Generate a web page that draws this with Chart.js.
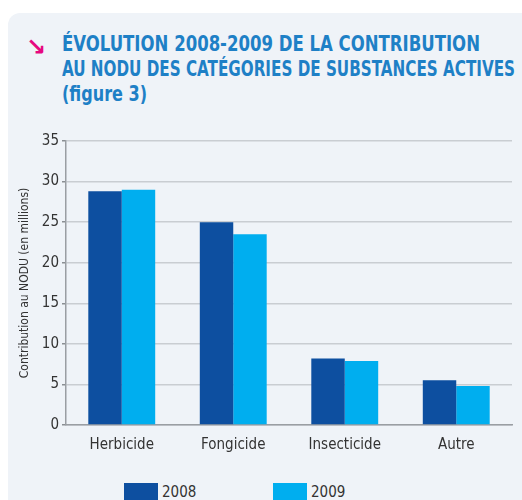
<!DOCTYPE html>
<html lang="fr">
<head>
    <meta charset="UTF-8">
    <title>Évolution 2008-2009 de la contribution au NODU</title>
    <style>
        body {
            margin: 0;
            width: 522px;
            height: 500px;
            overflow: hidden;
            background-color: white;
            position: relative;
            font-family: "DejaVu Sans Condensed", "Liberation Sans Narrow", Roboto, sans-serif;
        }
        .panel {
            position: absolute;
            left: 8px;
            top: 13px;
            width: 530px;
            height: 500px;
            background-color: #eff3f8;
            border-top-left-radius: 12px;
        }
        .arrow {
            position: absolute;
            left: 26px;
            top: 33px;
            color: #e6087f;
            font-size: 24px;
            font-weight: bold;
            font-family: "DejaVu Sans", sans-serif;
        }
        h1 {
            position: absolute;
            left: 62px;
            top: 32px;
            margin: 0;
            font-size: 21px;
            line-height: 25px;
            font-weight: bold;
            color: #1e80c6;
            white-space: nowrap;
        }
        h1 span {
            display: block;
            width: max-content;
            transform-origin: 0 0;
        }
        .chart-box {
            position: absolute;
            left: 0;
            top: 129px;
            width: 522px;
            height: 343px;
        }
        .legend {
            position: absolute;
            top: 483px;
            left: 0;
            font-size: 15px;
            color: #333;
        }
        .legend span.item {
            position: absolute;
            white-space: nowrap;
        }
        .legend span.box {
            display: inline-block;
            width: 34px;
            height: 17px;
            vertical-align: top;
            margin-right: 4px;
        }
    </style>
</head>
<body>
    <div class="panel"></div>
    <div class="arrow">↘</div>
    <h1 id="title"><span>ÉVOLUTION 2008-2009 DE LA CONTRIBUTION</span><span>AU NODU DES CATÉGORIES DE SUBSTANCES ACTIVES</span><span>(figure 3)</span></h1>
    <div class="chart-box"><canvas id="nodu"></canvas></div>
    <div class="legend" id="legend"></div>

    <script src="https://cdn.jsdelivr.net/npm/chart.js"></script>
    <script>
        const categories = ['Herbicide', 'Fongicide', 'Insecticide', 'Autre'];
        const years = ['2008', '2009'];
        const values2008 = [28.8, 25.0, 8.2, 5.5];
        const values2009 = [29.0, 23.5, 7.9, 4.8];
        const colors = ['#0d4fa0', '#00aeef'];
        const legendX = [124, 273];

        const fontFamily = '"DejaVu Sans Condensed", "Liberation Sans Narrow", Roboto, sans-serif';

        // squeeze each title line to the width it has in the figure
        const titleWidths = [418, 453, 85];
        document.querySelectorAll('#title span').forEach(function(line, i) {
            line.style.transform = 'scaleX(' + (titleWidths[i] / line.getBoundingClientRect().width) + ')';
        });

        // legend below the chart, as in the figure
        const legend = document.getElementById('legend');
        years.forEach(function(y, i) {
            const item = document.createElement('span');
            item.className = 'item';
            item.style.left = legendX[i] + 'px';
            item.innerHTML = '<span class="box" style="background:' + colors[i] + '"></span>' + y;
            legend.appendChild(item);
        });

        new Chart(document.getElementById('nodu').getContext('2d'), {
            type: 'bar',
            data: {
                labels: categories,
                datasets: [
                    { label: years[0], data: values2008, backgroundColor: colors[0] },
                    { label: years[1], data: values2009, backgroundColor: colors[1] }
                ]
            },
            options: {
                responsive: true,
                maintainAspectRatio: false,
                animation: false,
                datasets: {
                    bar: { barPercentage: 1, categoryPercentage: 0.6 }
                },
                layout: {
                    padding: { left: 15, right: 10, top: 11, bottom: 7 }
                },
                plugins: {
                    legend: { display: false },
                    tooltip: { enabled: false }
                },
                scales: {
                    x: {
                        grid: { display: false, drawTicks: false },
                        border: { color: '#9a9ea3', width: 1.5 },
                        ticks: {
                            padding: 11,
                            color: '#333',
                            font: { family: fontFamily, size: 15 }
                        }
                    },
                    y: {
                        min: 0,
                        max: 35,
                        ticks: {
                            stepSize: 5,
                            padding: 3,
                            color: '#333',
                            font: { family: fontFamily, size: 15 }
                        },
                        grid: {
                            color: '#c9cdd2',
                            lineWidth: 1.5,
                            tickLength: 4,
                            tickColor: '#8a8e93'
                        },
                        border: { color: '#9a9ea3', width: 1.5 },
                        title: {
                            display: true,
                            text: 'Contribution au NODU (en millions)',
                            color: '#333',
                            font: { family: fontFamily, size: 12 },
                            padding: { top: 3, bottom: 0 }
                        },
                        afterFit: function(scale) {
                            scale.width = 51;
                        }
                    }
                }
            }
        });
    </script>
</body>
</html>
